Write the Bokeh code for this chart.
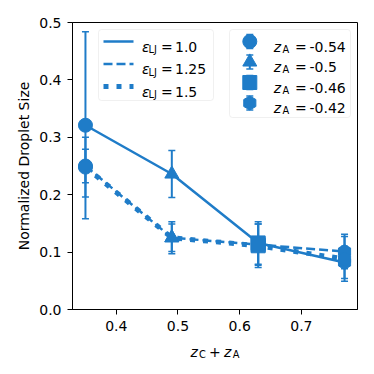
import math
from bokeh.plotting import figure
from bokeh.layouts import column
from bokeh.models import (ColumnDataSource, Range1d, FixedTicker, Whisker, TeeHead,
                          BoxAnnotation, Label)
from bokeh.core.properties import field, value
from bokeh.embed import file_html
from bokeh.resources import INLINE

# ---------------- data ----------------
charge_sum = [0.35, 0.49, 0.63, 0.77]          # z_C + z_A
z_anion = ["-0.54", "-0.5", "-0.46", "-0.42"]  # marker legend values
eps_labels = ["1.0", "1.25", "1.5"]            # line legend values

size_eps_1_0 = [0.321, 0.236, 0.116, 0.082]
err_eps_1_0 = [0.163, 0.041, 0.037, 0.028]
size_eps_1_25 = [0.250, 0.125, 0.113, 0.101]
err_eps_1_25 = [0.029, 0.028, 0.036, 0.030]
size_eps_1_5 = [0.248, 0.125, 0.111, 0.088]
err_eps_1_5 = [0.052, 0.024, 0.038, 0.039]

x_ticks = [0.4, 0.5, 0.6, 0.7]
x_tick_labels = ["0.4", "0.5", "0.6", "0.7"]
y_ticks = [0.0, 0.1, 0.2, 0.3, 0.4, 0.5]
y_tick_labels = ["0.0", "0.1", "0.2", "0.3", "0.4", "0.5"]

# ---------------- style ----------------
BLUE = "#1f7cc8"
FONT = "DejaVu Sans"
markers = ["circle", "triangle", "square", "hex"]
angles = [0.0, 0.0, 0.0, math.pi / 2]
dashes = ["solid", "9 4", "5 8"]
widths = [2.5, 2.5, 5]
W = 374
FW, FH = 285, 287
ML, MR, MT, MB = 72, 17, 22, 33
H2 = 32

p = figure(width=W, height=MT + FH + MB,
           x_range=Range1d(0.329, 0.791), y_range=Range1d(0.0, 0.5),
           output_backend="svg", toolbar_location=None,
           min_border_left=ML, min_border_right=MR, min_border_top=MT, min_border_bottom=MB)
p.extra_x_ranges = {"px": Range1d(0, FW)}
p.extra_y_ranges = {"px": Range1d(0, FH)}
p.grid.visible = False
p.outline_line_color = "black"
p.outline_line_width = 1
p.outline_line_alpha = 1

p.xaxis.ticker = FixedTicker(ticks=x_ticks)
p.xaxis.major_label_overrides = dict(zip(x_ticks, x_tick_labels))
p.yaxis.ticker = FixedTicker(ticks=y_ticks)
p.yaxis.major_label_overrides = dict(zip(y_ticks, y_tick_labels))
for ax in (p.xaxis, p.yaxis):
    ax.axis_line_color = "black"
    ax.axis_line_width = 1
    ax.major_tick_line_color = "black"
    ax.major_tick_line_width = 1
    ax.major_tick_in = 0
    ax.major_tick_out = 5
    ax.minor_tick_line_color = None
    ax.major_label_text_font = FONT
    ax.major_label_text_font_size = "14px"
    ax.major_label_text_color = "black"
p.xaxis.major_label_standoff = 6
p.yaxis.major_label_standoff = 6
p.yaxis.axis_label = "Normalized Droplet Size"
p.yaxis.axis_label_text_font = FONT
p.yaxis.axis_label_text_font_size = "14px"
p.yaxis.axis_label_text_font_style = "normal"
p.yaxis.axis_label_text_color = "black"
p.yaxis.axis_label_standoff = 4

# ---------------- data series ----------------
series = [(size_eps_1_0, err_eps_1_0), (size_eps_1_25, err_eps_1_25), (size_eps_1_5, err_eps_1_5)]
for k, (vals, errs) in enumerate(series):
    src = ColumnDataSource(dict(
        x=charge_sum, y=vals,
        upper=[v + e for v, e in zip(vals, errs)],
        lower=[v - e for v, e in zip(vals, errs)],
        marker=markers, angle=angles))
    p.add_layout(Whisker(source=src, base="x", upper="upper", lower="lower",
                         dimension="height", line_color=BLUE, line_width=2,
                         upper_head=TeeHead(size=7, line_color=BLUE, line_width=1.5),
                         lower_head=TeeHead(size=7, line_color=BLUE, line_width=1.5)))
    p.line("x", "y", source=src, line_color=BLUE, line_width=widths[k], line_dash=dashes[k])
    p.scatter("x", "y", source=src, marker=field("marker"), angle="angle",
              size=14, fill_color=BLUE, line_color=BLUE)

# ---------------- legends (drawn in frame pixel coordinates) ----------------
def text(x, y, s, size="14px", style="normal"):
    p.add_layout(Label(x=x, y=y, text=s, x_range_name="px", y_range_name="px",
                       text_font=FONT, text_font_size=size, text_font_style=style,
                       text_color="black", text_baseline="alphabetic", text_align="left"))

for l, r, b, tp in [(26, 141, 209, 280), (157, 278, 192, 280)]:
    p.add_layout(BoxAnnotation(left=l, right=r, bottom=b, top=tp,
                               x_range_name="px", y_range_name="px",
                               fill_color="white", fill_alpha=0.8,
                               line_color="#cccccc", line_width=1,
                               border_radius=3, level="underlay"))

rows_l = [268, 245.5, 223]
for k, yr in enumerate(rows_l):
    p.line([31, 61], [yr, yr], x_range_name="px", y_range_name="px",
           line_color=BLUE, line_width=widths[k], line_dash=dashes[k])
    text(69.5, yr - 5, "ε", style="italic")
    text(76, yr - 8, "LJ", size="9.8px")
    text(88.5, yr - 5, "=")
    text(102.5, yr - 5, eps_labels[k])

rows_r = [268, 247.5, 227, 206.5]
p.segment(x0=[177.3] * 4, x1=[177.3] * 4, y0=[y - 7 for y in rows_r], y1=[y + 7 for y in rows_r],
          x_range_name="px", y_range_name="px", line_color=BLUE, line_width=2)
p.scatter(x=[177.3] * 8, y=[y - 7 for y in rows_r] + [y + 7 for y in rows_r], marker="dash",
          size=7, line_color=BLUE, line_width=1.5, x_range_name="px", y_range_name="px")
p.scatter(x=[177.3] * 4, y=rows_r, marker=markers, angle=angles, size=14,
          fill_color=BLUE, line_color=BLUE, x_range_name="px", y_range_name="px")
for k, yr in enumerate(rows_r):
    text(201.3, yr - 5, "z", style="italic")
    text(210, yr - 7.5, "A", size="9.8px")
    text(222.5, yr - 5, "=")
    text(237, yr - 5, z_anion[k])

# ---------------- x axis title strip: z_C + z_A (frame-pixel coordinates) ----------------
t = figure(width=W, height=H2, x_range=Range1d(0, FW), y_range=Range1d(H2, 0),
           x_axis_type=None, y_axis_type=None, output_backend="svg", toolbar_location=None,
           min_border_left=ML, min_border_right=MR, min_border_top=0, min_border_bottom=0)
t.outline_line_color = None
t.grid.visible = False
title_parts = ["z", "C", "+", "z", "A"]
title_x = [118, 126.5, 136.5, 151.5, 160.2]
title_y = [9.5, 12, 9.5, 9.5, 12]
title_size = ["14px", "9.8px", "14px", "14px", "9.8px"]
title_style = ["italic", "normal", "normal", "italic", "normal"]
for s, xx, yy, fs, st in zip(title_parts, title_x, title_y, title_size, title_style):
    t.text(x=[xx], y=[yy], text=[s], text_font=value(FONT), text_font_size=fs,
           text_font_style=st, text_color="black", text_baseline="alphabetic", text_align="left")

open("out.html", "w").write(file_html(column(p, t, spacing=0), INLINE))
